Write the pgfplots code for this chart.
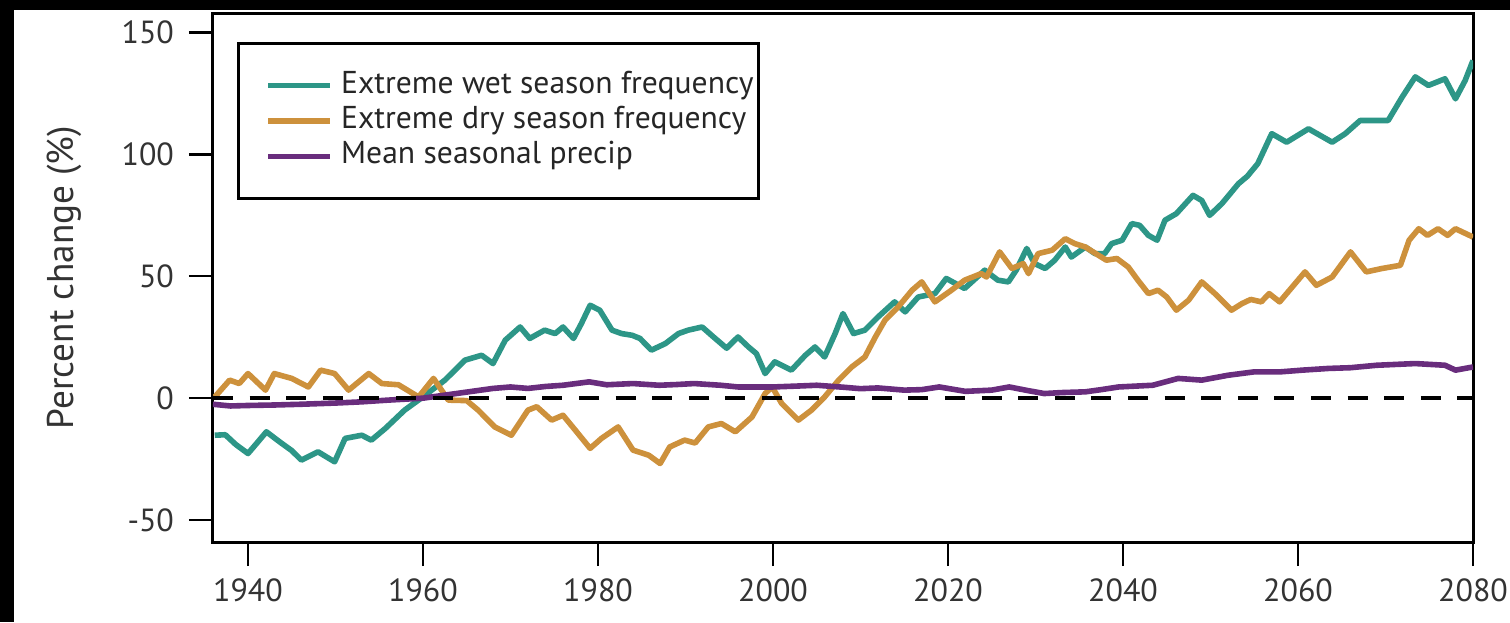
\documentclass[border=0pt]{standalone}
\usepackage{pgfplots}
\pgfplotsset{compat=1.18}
\usepackage{fontspec}
\setmainfont{PT Sans}
\definecolor{wetc}{RGB}{45,150,135}
\definecolor{dryc}{RGB}{205,145,60}
\definecolor{meanc}{RGB}{105,45,125}
\begin{document}
\begin{tikzpicture}
\useasboundingbox (-106.5pt,-40pt) rectangle (648.5pt,271pt);
\fill[black] (-106.5pt,-40pt) rectangle (-99.5pt,271pt);
\fill[black] (-106.5pt,265.8pt) rectangle (648.5pt,271pt);
\begin{axis}[
  at={(0,0)}, anchor=south west,
  width=630pt, height=264.5pt, scale only axis,
  xmin=1936, xmax=2080, ymin=-59, ymax=158,
  xtick={1940,1960,1980,2000,2020,2040,2060,2080},
  xticklabels={1940,1960,1980,2000,2020,2040,2060,2080},
  ytick={-50,0,50,100,150},
  yticklabels={-50,0,50,100,150},
  xtick pos=bottom, ytick pos=left,
  tick align=outside,
  major tick length=12pt,
  every tick/.style={black, line width=1.2pt},
  axis line style={line width=1.5pt},
  tick label style={font=\fontsize{16}{19}\selectfont, text=black!80},
  xticklabel style={yshift=-3pt},
  yticklabel style={xshift=-4pt},
  ylabel={Percent change (\%)},
  every axis y label/.style={at={(axis description cs:-0.1183,0.5)}, rotate=90, anchor=center, font=\fontsize{18.6}{21}\selectfont, text=black!80},
  legend style={at={(0.019,0.945)}, anchor=north west, draw=black, line width=1.5pt,
    font=\fontsize{15.8}{18}\selectfont, text=black!85,
    inner xsep=2.5pt, inner ysep=13.75pt,
    row sep=3.2pt, column sep=4pt,
    nodes={inner sep=0pt, text height=11pt, text depth=3.5pt}},
  legend cell align=left,
  legend image code/.code={\path[draw=none,fill=none] (0pt,-4pt) rectangle (12.5pt,4pt); \draw[#1] (12.5pt,0pt) -- (43.5pt,0pt);},
]
\addplot[wetc, line width=2.8pt, line join=round] coordinates {
(1936.2,-15.2) (1937.4,-15.0) (1938.6,-19.0) (1940.0,-22.7) (1941.0,-18.5) (1942.1,-13.8) (1943.8,-18.4) (1945.0,-21.5) (1946.1,-25.4) (1948.0,-22.0) (1949.9,-26.1) (1951.1,-16.5) (1953.0,-15.2) (1954.1,-17.2) (1955.7,-12.4) (1957.9,-4.9) (1959.9,0.3) (1962.5,7.4) (1964.8,15.6) (1966.7,17.6) (1968.0,14.2) (1969.4,23.8) (1971.1,29.2) (1972.2,24.5) (1973.9,27.9) (1975.1,26.5) (1976.0,29.2) (1977.2,24.5) (1978.1,30.6) (1979.1,38.1) (1980.2,36.1) (1981.6,27.9) (1982.7,26.5) (1983.9,25.8) (1984.8,24.5) (1986.1,19.7) (1987.7,22.4) (1989.2,26.5) (1990.3,27.9) (1991.9,29.2) (1993.2,25.1) (1994.7,20.5) (1996.0,25.1) (1997.2,21.0) (1998.1,18.3) (1999.1,10.1) (2000.2,14.9) (2002.1,11.5) (2003.7,17.6) (2004.8,21.0) (2005.9,16.9) (2007.1,26.5) (2008.0,34.7) (2009.2,26.5) (2010.5,27.9) (2012.0,33.3) (2013.9,39.5) (2015.1,35.4) (2016.6,41.5) (2018.5,42.9) (2019.8,49.1) (2021.9,45.0) (2024.2,52.5) (2025.7,48.4) (2026.9,47.7) (2027.8,52.5) (2029.0,61.4) (2029.9,55.2) (2031.1,53.2) (2032.2,56.6) (2033.4,62.0) (2034.1,57.9) (2035.7,62.0) (2036.8,59.3) (2037.9,59.3) (2038.7,63.4) (2039.9,64.8) (2041.0,71.6) (2041.9,70.9) (2042.9,66.8) (2043.9,64.8) (2044.8,73.0) (2046.1,75.7) (2048.0,83.2) (2049.0,81.1) (2049.9,75.0) (2051.3,79.8) (2053.2,88.0) (2054.2,91.0) (2055.4,96.2) (2057.0,108.5) (2058.7,105.0) (2061.2,110.5) (2063.9,105.0) (2065.4,108.5) (2067.1,113.9) (2070.3,113.9) (2071.9,123.5) (2073.4,131.8) (2074.9,128.3) (2076.8,131.0) (2078.0,122.8) (2079.1,130.3) (2080.0,138.5)
};
\addlegendentry{Extreme wet season frequency}
\addplot[dryc, line width=2.8pt, line join=round] coordinates {
(1936.2,0.5) (1937.9,7.4) (1939.0,6.0) (1940.0,10.1) (1942.0,3.3) (1943.0,10.1) (1945.0,8.1) (1946.9,4.6) (1948.3,11.5) (1949.9,10.1) (1951.5,3.3) (1953.8,10.1) (1955.3,6.0) (1957.2,5.5) (1959.5,0.5) (1961.2,8.1) (1962.9,-0.8) (1965.0,-1.0) (1966.3,-4.9) (1968.2,-11.8) (1970.1,-15.2) (1972.0,-4.9) (1973.0,-3.5) (1974.7,-9.0) (1976.0,-7.0) (1977.4,-13.1) (1979.1,-20.6) (1980.4,-16.5) (1982.3,-11.8) (1984.0,-21.3) (1985.8,-23.4) (1987.1,-26.8) (1988.2,-20.0) (1989.9,-17.2) (1991.1,-18.4) (1992.6,-11.8) (1994.1,-10.4) (1995.7,-13.8) (1997.6,-7.7) (1999.1,1.9) (1999.9,4.6) (2001.0,-2.2) (2002.9,-9.0) (2004.4,-4.9) (2005.9,0.5) (2007.5,7.4) (2009.0,12.8) (2010.5,16.9) (2011.7,25.1) (2012.8,32.0) (2014.3,37.4) (2015.9,44.3) (2017.0,47.7) (2018.5,39.5) (2020.4,44.3) (2021.9,48.4) (2023.8,51.1) (2024.4,49.7) (2025.9,60.0) (2027.3,53.2) (2028.6,55.2) (2029.2,51.1) (2030.3,59.3) (2031.9,60.7) (2033.4,65.4) (2034.5,63.4) (2035.7,62.0) (2037.2,58.6) (2038.1,56.6) (2039.3,57.3) (2040.6,53.8) (2041.7,48.4) (2042.9,42.9) (2044.0,44.3) (2045.0,41.5) (2046.1,36.1) (2047.5,40.2) (2049.0,47.7) (2050.5,42.9) (2052.4,36.1) (2053.6,38.8) (2054.6,40.5) (2055.8,39.5) (2056.7,42.9) (2057.9,39.5) (2060.8,51.8) (2062.1,46.3) (2063.9,49.7) (2066.0,60.0) (2067.8,51.8) (2069.6,53.2) (2071.7,54.5) (2072.7,64.8) (2073.8,69.5) (2074.8,66.8) (2076.0,69.5) (2077.1,66.8) (2078.0,69.5) (2080.0,66.1)
};
\addlegendentry{Extreme dry season frequency}
\addplot[meanc, line width=2.8pt, line join=round] coordinates {
(1936,-2.5) (1938,-3.2) (1940,-3.0) (1943,-2.8) (1946,-2.5) (1950,-2.0) (1953,-1.5) (1956,-0.8) (1960,0.0) (1962,1.0) (1965,2.5) (1968,4.0) (1970,4.6) (1972,4.0) (1974,4.8) (1976,5.3) (1979,6.7) (1981,5.5) (1984,6.0) (1987,5.3) (1989,5.6) (1991,6.0) (1994,5.3) (1996,4.6) (2000,4.6) (2003,5.0) (2005,5.3) (2008,4.5) (2010,3.9) (2012,4.2) (2015,3.3) (2017,3.5) (2019,4.6) (2022,2.8) (2025,3.3) (2027,4.6) (2029,3.2) (2031,1.9) (2033,2.3) (2035.7,2.6) (2037.5,3.5) (2039.5,4.6) (2043.4,5.3) (2046.3,8.1) (2049,7.4) (2052,9.4) (2055,10.8) (2058,10.8) (2060.5,11.5) (2063.5,12.2) (2066,12.5) (2069,13.5) (2073.4,14.2) (2076.8,13.5) (2078,11.5) (2080,12.8)
};
\addlegendentry{Mean seasonal precip}
\addplot[black, line width=2pt, dash pattern=on 10pt off 8.3pt, forget plot] coordinates {(1936,0) (2080,0)};
\end{axis}
\end{tikzpicture}
\end{document}
